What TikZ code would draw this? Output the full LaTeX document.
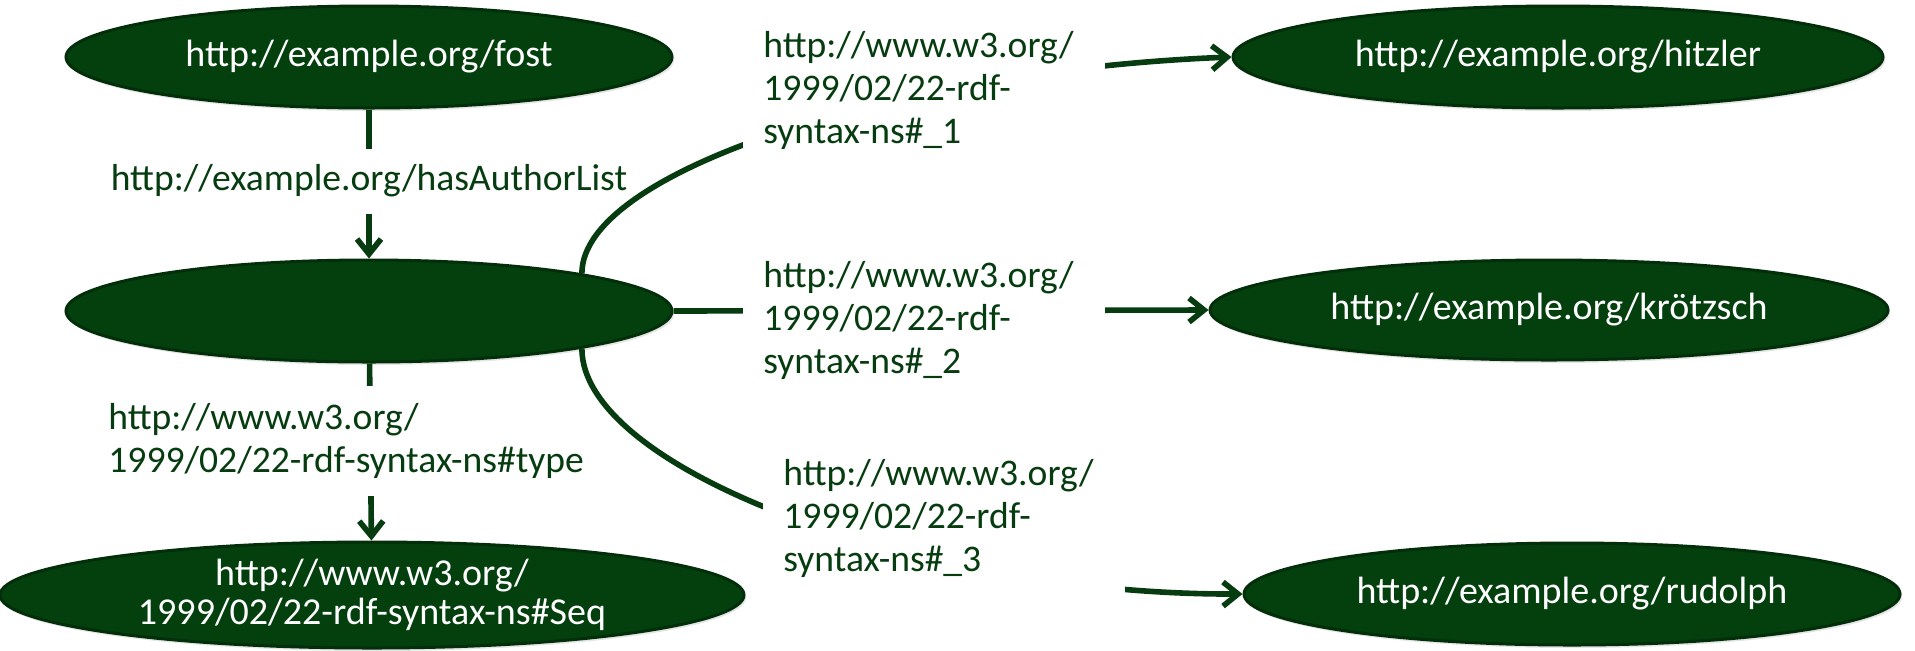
\documentclass[tikz,border=0pt]{standalone}
\usepackage{fontspec}
\setmainfont{Carlito}
\usetikzlibrary{shapes.geometric,arrows.meta,shadows}
\definecolor{nodefill}{RGB}{3,64,14}
\definecolor{nodeborder}{RGB}{2,46,10}
\definecolor{ink}{RGB}{6,60,16}
\begin{document}
\begin{tikzpicture}[x=0.5pt,y=-0.5pt,
  res/.style={ellipse, fill=nodefill, draw=nodeborder, line width=1.5pt, text=white,
    inner sep=0pt, font=\fontsize{19}{19.5}\selectfont, align=center,
    drop shadow={shadow xshift=1pt, shadow yshift=-1.5pt, opacity=0.2}},
  lbl/.style={fill=white, text=ink, font=\fontsize{18.8}{21.5}\selectfont, align=left},
  arr/.style={draw=ink, line width=2.8pt, -{Straight Barb[length=7.5pt,width=12pt]}}]

\fill[white] (0,0) rectangle (1915,650);
\useasboundingbox (0,0) rectangle (1915,650);

% resources
\node[res, minimum width=303pt, minimum height=51pt] (f) at (369,57) {http://example.org/fost};
\node[res, minimum width=303pt, minimum height=51pt] (m) at (369,311) {};
\node[res, minimum width=372pt, minimum height=53pt] (s) at (372,595) {http://www.w3.org/\\1999/02/22-rdf-syntax-ns\#Seq};
\node[res, minimum width=325pt, minimum height=51pt] (h) at (1558,57) {http://example.org/hitzler};
\node[res, minimum width=339pt, minimum height=50pt] (k) at (1549,310) {http://example.org/krötzsch};
\node[res, minimum width=328pt, minimum height=51pt] (r) at (1572,594) {http://example.org/rudolph};

% straight connectors
\draw[arr] (f) -- (m);
\draw[arr] (m) -- (s);
\draw[arr] (m.east) -- (k.west);

% labels of the vertical connectors
\node[lbl, minimum height=32.5pt, inner xsep=0pt] (lf) at (369,181) {http://example.org/hasAuthorList};
\node[lbl, anchor=west, inner xsep=0pt, minimum height=55pt] (lt) at (108,441) {http://www.w3.org/\\1999/02/22-rdf-syntax-ns\#type};

% curved connectors
\draw[arr] (m.10) .. controls (582,170) and (900,70) .. (h.west);
\draw[arr] (m.-10) .. controls (582,470) and (920,595) .. (r.west);

% labels of the list-member connectors
\node[lbl, anchor=west, text width=161pt, inner xsep=10pt, minimum height=75pt] (l1) at (743,90) {http://www.w3.org/\\1999/02/22-rdf-\\syntax-ns\#\_1};
\node[lbl, anchor=west, text width=161pt, inner xsep=10pt, minimum height=75pt] (l2) at (743,320) {http://www.w3.org/\\1999/02/22-rdf-\\syntax-ns\#\_2};
\node[lbl, anchor=west, text width=161pt, inner xsep=10pt, minimum height=75pt] (l3) at (763,518) {http://www.w3.org/\\1999/02/22-rdf-\\syntax-ns\#\_3};
\end{tikzpicture}
\end{document}
